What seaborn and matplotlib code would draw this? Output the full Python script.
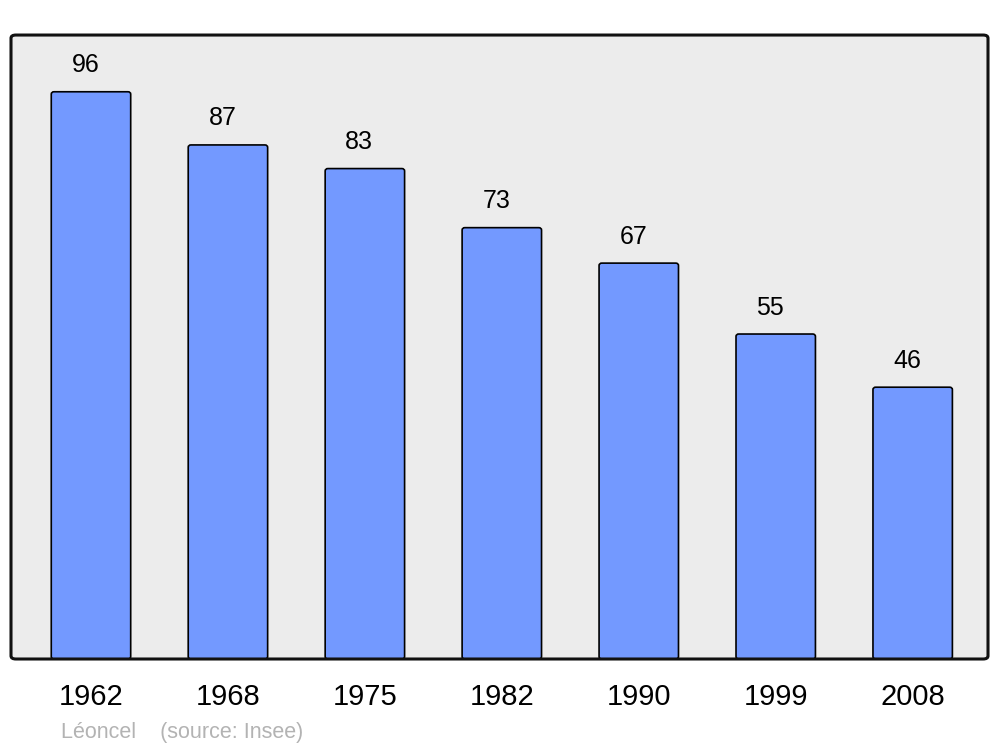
import numpy as np
import pandas as pd
import matplotlib
matplotlib.use('Agg')
import matplotlib.pyplot as plt
import seaborn as sns
from matplotlib.patches import FancyBboxPatch

# data
years = ['1962', '1968', '1975', '1982', '1990', '1999', '2008']
population = [96, 87, 83, 73, 67, 55, 46]

sns.set_style('white')
plt.rcParams['font.family'] = ['Liberation Sans', 'DejaVu Sans']

df = pd.DataFrame({'year': years, 'pop': population})

fig = plt.figure(figsize=(10, 7.47), dpi=100)
ax = fig.add_axes([0.011, 0.1178, 0.977, 0.8353])

sns.barplot(data=df, x='year', y='pop', color='#7399ff', width=0.58,
            saturation=1, edgecolor='black', linewidth=1.2, ax=ax, zorder=2)

# rounded bars: swap rectangles for fancy boxes of same bounds
for p in list(ax.patches):
    x, y = p.get_x(), p.get_y()
    w, h = p.get_width(), p.get_height()
    fb = FancyBboxPatch((x, y), w, h, boxstyle='round,pad=0,rounding_size=0.02',
                        mutation_aspect=1 / 0.6 * 100 / 7.13 * 0.977 / 0.8353 / 1.34,
                        facecolor='#7399ff', edgecolor='black', linewidth=1.2, zorder=2)
    p.remove()
    ax.add_patch(fb)
    ax.annotate(f'{int(round(h))}', (x + w / 2, h), xytext=(-4, 14),
                textcoords='offset points', ha='center', va='baseline',
                fontsize=18, color='black')

ax.set_xlim(-0.584, 6.55)
ax.set_ylim(0, 105.6)
ax.set_facecolor('#ececec')
ax.set_xlabel('')
ax.set_ylabel('')
ax.set_yticks([])
ax.tick_params(axis='x', length=0, pad=17, labelsize=21, labelcolor='black')
for s in ax.spines.values():
    s.set_visible(False)

# rounded frame around the plot area
frame = FancyBboxPatch((0, 0), 1, 1, transform=ax.transAxes,
                       boxstyle='round,pad=0,rounding_size=0.005',
                       facecolor='none', edgecolor='#111111', linewidth=2.2,
                       zorder=5, clip_on=False)
ax.add_patch(frame)

fig.text(0.061, 0.012, 'Léoncel    (source: Insee)', fontsize=15.5,
         color='#b3b3b3', ha='left', va='baseline')

fig.savefig('out.png', dpi=100)
